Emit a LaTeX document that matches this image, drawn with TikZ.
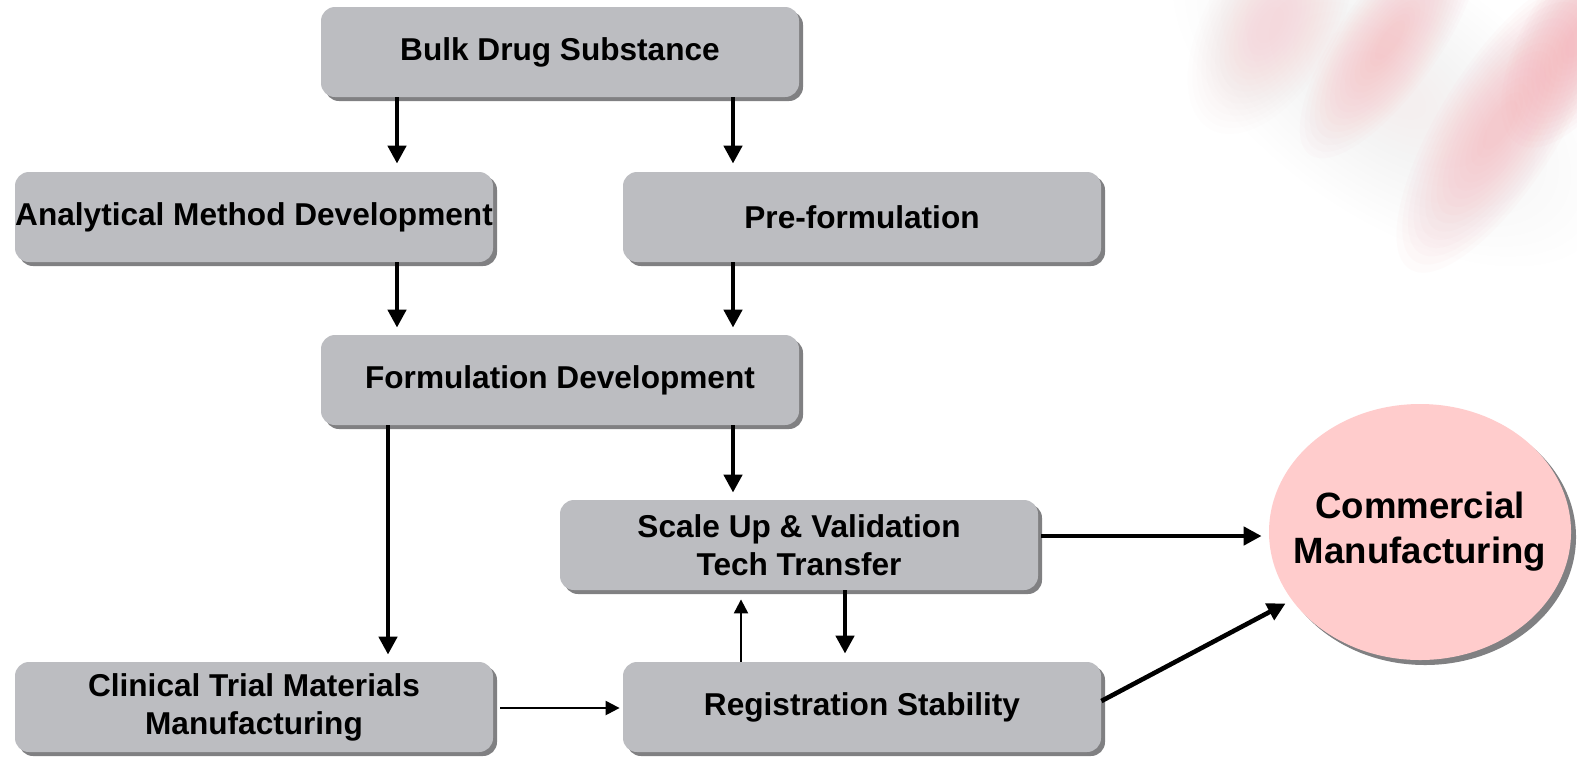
\documentclass[tikz,border=0pt]{standalone}
\usepackage{fontspec}
\setmainfont{Liberation Sans}
\usetikzlibrary{arrows.meta,shapes.geometric,shadows}
\definecolor{boxgray}{RGB}{188,189,193}
\definecolor{shadowgray}{RGB}{128,128,130}
\definecolor{commpink}{RGB}{255,204,204}
\definecolor{streakpink}{RGB}{244,170,178}
\begin{document}
\begin{tikzpicture}[x=0.5pt,y=-0.5pt,
  box/.style={rectangle, rounded corners=7pt, fill=boxgray, minimum width=239pt, minimum height=45pt,
    inner sep=0pt, font=\bfseries\fontsize{15.8}{19}\selectfont, align=center,
    drop shadow={shadow xshift=2pt, shadow yshift=-2pt, fill=shadowgray, opacity=1}},
  endbox/.style={ellipse, fill=commpink, minimum width=151pt, minimum height=128pt, inner sep=-12pt,
    font=\bfseries\fontsize{18.3}{22.5}\selectfont, align=center,
    drop shadow={shadow xshift=2.5pt, shadow yshift=-2.5pt, fill=shadowgray, opacity=1}},
  thickarr/.style={line width=2.3pt, -{Triangle[width=9pt,length=9pt]}},
  thinarr/.style={line width=1.1pt, -{Triangle[width=7pt,length=7pt]}}]
\fill[white] (0,0) rectangle (1577,756);
\useasboundingbox (0,0) rectangle (1577,756);
% background streaks
\foreach \cx/\cy/\ang/\rx/\ry/\op in {1390/90/-35/250/125/0.012, 1270/25/60/120/65/0.02, 1390/40/55/140/50/0.04, 1500/125/58/170/60/0.045, 1578/40/60/120/55/0.05}{
  \foreach \k in {0,...,15}{
    \fill[streakpink, opacity=\op, rotate around={\ang:(\cx,\cy)}] (\cx,\cy) ellipse [x radius={\rx*(1-\k/18)}, y radius={\ry*(1-\k/18)}];
  }
}
% nodes
\node[box] (bulk) at (560,52) {Bulk Drug Substance};
\node[box] (anal) at (254,217) {Analytical Method Development};
\node[box] (pre) at (862,217) {Pre-formulation};
\node[box] (form) at (560,380) {Formulation Development};
\node[box] (scale) at (799,545) {Scale Up \& Validation\\Tech Transfer};
\node[box] (clin) at (254,707) {Clinical Trial Materials\\Manufacturing};
\node[box] (reg) at (862,707) {Registration Stability};
\node[endbox] (comm) at (1420,532) {Commercial\\Manufacturing};
% helper coordinates
\coordinate (xa) at (397,0);
\coordinate (xb) at (733,0);
\coordinate (xc) at (388,0);
\coordinate (xd) at (845,0);
\coordinate (xe) at (741,0);
\coordinate (ya) at (0,708);
\coordinate (yb) at (0,536);
% connectors
\draw[thickarr] (bulk.south -| xa) -- ([yshift=4pt]anal.north -| xa);
\draw[thickarr] (bulk.south -| xb) -- ([yshift=4pt]pre.north -| xb);
\draw[thickarr] (anal.south -| xa) -- ([yshift=3.5pt]form.north -| xa);
\draw[thickarr] (pre.south -| xb) -- ([yshift=3.5pt]form.north -| xb);
\draw[thickarr] (form.south -| xc) -- ([yshift=3.5pt]clin.north -| xc);
\draw[thickarr] (form.south -| xb) -- ([yshift=3.5pt]scale.north -| xb);
\draw[thickarr] (scale.south -| xd) -- ([yshift=4pt]reg.north -| xd);
\draw[thinarr] (reg.north -| xe) -- ([yshift=-4.5pt]scale.south -| xe);
\draw[thinarr, shorten <=3.5pt, shorten >=1.5pt] (clin.east |- ya) -- (reg.west |- ya);
\draw[thickarr, shorten <=1.5pt, shorten >=3.5pt] (scale.east |- yb) -- (comm.west |- yb);
\draw[thickarr, shorten >=3.5pt] ([yshift=3pt]reg.east) -- (comm.208);
\end{tikzpicture}
\end{document}
